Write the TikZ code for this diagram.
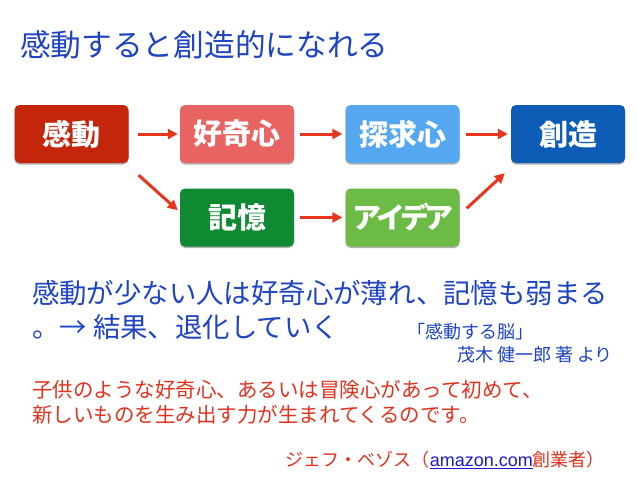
\documentclass[tikz,border=0pt]{standalone}
\usepackage{fontspec}
\setmainfont{Noto Sans CJK JP}
\newfontfamily\latinfont{Liberation Sans}
\usetikzlibrary{shadows,arrows.meta,calc}
\definecolor{ckando}{HTML}{C4260B}
\definecolor{ckoki}{HTML}{E86462}
\definecolor{ctankyu}{HTML}{55A7F0}
\definecolor{csozo}{HTML}{0D5CB6}
\definecolor{ckioku}{HTML}{0F8A33}
\definecolor{cidea}{HTML}{6DBB47}
\definecolor{cblue}{HTML}{1E44C4}
\definecolor{cred}{HTML}{E0321E}
\definecolor{carrow}{HTML}{E8361E}
\definecolor{clink}{HTML}{1A1ACC}
\tikzset{
  box/.style={rounded corners=5pt, minimum width=114pt, minimum height=58pt,
    text=white, font=\fontsize{29}{32}\selectfont\bfseries, inner sep=0pt,
    drop shadow={shadow xshift=0pt, shadow yshift=-1.5pt, opacity=0.3, fill=black}},
  arr/.style={draw=carrow, line width=3pt, -{Triangle[length=10pt,width=10pt]}},
  txt/.style={inner sep=0pt, anchor=west}
}
\begin{document}
\begin{tikzpicture}[x=1pt,y=-1pt]
\useasboundingbox[fill=white] (0,0) rectangle (638,479);
\node[txt, text=cblue, font=\fontsize{30.7}{34}\selectfont] (title) at (20,45) {感動すると創造的になれる};
\node[box, fill=ckando] (kando) at (71.5,134) {感動};
\node[box, fill=ckoki] (koki) at (237,134) {好奇心};
\node[box, fill=ctankyu] (tankyu) at (402.5,134) {探求心};
\node[box, fill=csozo] (sozo) at (568,134) {創造};
\node[box, fill=ckioku] (kioku) at (237,217.5) {記憶};
\node[box, fill=cidea] (idea) at (402.5,217.5) {ア\kern-5pt イ\kern-5pt デ\kern-5pt ア};
\draw[arr] ([xshift=9pt]kando.east) -- ([xshift=-2pt]koki.west);
\draw[arr] ([xshift=6pt]koki.east) -- ([xshift=-3pt]tankyu.west);
\draw[arr] ([xshift=6pt]tankyu.east) -- ([xshift=-3pt]sozo.west);
\draw[arr] ([xshift=6pt]kioku.east) -- ([xshift=-3pt]idea.west);
\draw[arr] ($(kando.south east)+(10,12)$) -- ($(kioku.north west)+(-2,22)$);
\draw[arr] ($(idea.north east)+(7,20)$) -- ($(sozo.south west)+(-6,10)$);
\node[txt, text=cblue, font=\fontsize{27.4}{30}\selectfont] (l1) at (32,293) {感動が少ない人は好奇心が薄れ、記憶も弱まる};
\node[txt, text=cblue, font=\fontsize{27.4}{30}\selectfont] (l2) at (32,327) {。→ 結果、退化していく};
\node[txt, text=cblue, font=\fontsize{18}{20}\selectfont] (book) at (407,332) {「感動する脳」};
\node[inner sep=0pt, anchor=east, text=cblue, font=\fontsize{18}{20}\selectfont] (author) at (613,355) {茂木 健一郎 著 より};
\node[txt, text=cred, font=\fontsize{20.5}{22}\selectfont] (r1) at (32,390) {子供のような好奇心、あるいは冒険心があって初めて、};
\node[txt, text=cred, font=\fontsize{20.5}{22}\selectfont] (r2) at (32,415) {新しいものを生み出す力が生まれてくるのです。};
\node[inner sep=0pt, anchor=east, text=cred, font=\fontsize{18}{20}\selectfont] (bezos) at (605,460) {ジェフ・ベゾス（{\latinfont\color{clink}\underline{amazon.com}}創業者）};
\end{tikzpicture}
\end{document}
